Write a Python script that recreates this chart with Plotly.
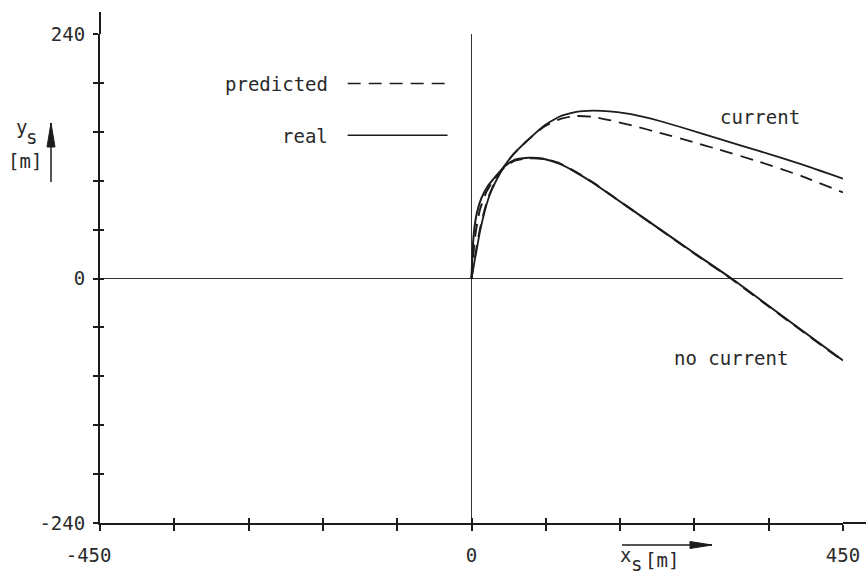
import plotly.graph_objects as go

# ---------------- data ----------------
nc_real_x = [0, 1.5, 3.6, 7, 12, 20, 28, 40, 52, 69, 88, 107, 127, 147, 188, 228, 268, 315, 386, 450]
nc_real_y = [0, 30, 50, 66, 79, 91, 99, 110, 116.5, 118.5, 117.3, 112.5, 104, 94, 71, 48.5, 26, 0, -42.5, -80.5]

nc_pred_x = [0, 2, 5, 10, 18, 28, 40, 52, 69, 88, 107, 127, 147, 188, 228, 268, 315, 386, 450]
nc_pred_y = [0, 22, 45, 67, 85, 98, 109, 115.5, 118, 117.5, 113, 104.5, 94.3, 71, 48.3, 25.5, -0.5, -43, -81]

c_real_x = [0, 3, 6, 10, 16, 22, 28, 40, 52, 67, 88, 107, 127, 147, 167, 187, 207, 228, 260, 300, 349, 400, 450]
c_real_y = [0, 14, 27, 45, 66, 82, 93, 110.7, 123, 135, 150, 159, 163.5, 164.7, 164, 162, 158.8, 154.6, 147, 137, 125, 112, 98]

c_pred_x = [0, 3, 6, 10, 16, 22, 28, 40, 52, 67, 88, 107, 127, 147, 167, 200, 228, 268, 300, 349, 400, 450]
c_pred_y = [0, 16, 30, 48, 68, 83, 94, 111, 123, 135, 149, 156.5, 159.5, 158.7, 155.5, 149, 143, 134, 126.5, 114.5, 100.5, 84.5]

x_ticks = [-450, -360, -270, -180, -90, 0, 90, 180, 270, 360, 450]
x_ticktext = ["-450\u00a0\u00a0", "", "", "", "", "0", "", "", "", "", "450"]
y_ticks = [-240, -192, -144, -96, -48, 0, 48, 96, 144, 192, 240]
y_ticktext = ["-240", "", "", "", "", "0", "", "", "", "", "240"]

# ---------------- geometry / styles ----------------
W, H = 866, 575
PL, PR, PT, PB = 100, 843, 34, 523      # plot area in page pixels


def px(x):
    return (x - PL) / (PR - PL)


def py(y):
    return (PB - y) / (PB - PT)


INK = "#1c1c1c"
TXT = "#2a2a2a"
FONT = dict(family="DejaVu Sans Mono", size=19, color=TXT)
DASH = "13px,8px"

fig = go.Figure()
spl = dict(shape="spline", smoothing=0.5)
fig.add_trace(go.Scatter(x=nc_real_x, y=nc_real_y, mode="lines",
                         line=dict(color=INK, width=2, **spl)))
fig.add_trace(go.Scatter(x=nc_pred_x, y=nc_pred_y, mode="lines",
                         line=dict(color=INK, width=2, dash=DASH, **spl)))
fig.add_trace(go.Scatter(x=c_real_x, y=c_real_y, mode="lines",
                         line=dict(color=INK, width=1.8, **spl)))
fig.add_trace(go.Scatter(x=c_pred_x, y=c_pred_y, mode="lines",
                         line=dict(color=INK, width=1.8, dash=DASH, **spl)))
# helper (empty) trace so the overlaid tick axes are drawn
fig.add_trace(go.Scatter(x=[None], y=[None], xaxis="x2", yaxis="y2", mode="lines",
                         hoverinfo="skip"))

axis_common = dict(showgrid=False, tickcolor=INK, tickwidth=1.5, tickfont=FONT,
                   fixedrange=True, automargin=False)

fig.update_layout(
    template="none",
    width=W, height=H,
    margin=dict(l=PL, r=W - PR, t=PT, b=H - PB, autoexpand=False),
    paper_bgcolor="white", plot_bgcolor="white",
    showlegend=False,
    xaxis=dict(range=[-450, 450], tickvals=x_ticks, ticktext=x_ticktext,
               ticks="outside", ticklen=6, ticklabelstandoff=8,
               zeroline=True, zerolinecolor="#333333", zerolinewidth=1,
               showline=True, linecolor=INK, linewidth=2, **axis_common),
    yaxis=dict(range=[-240, 240], tickvals=y_ticks, ticktext=y_ticktext,
               ticks="outside", ticklen=5, ticklabelstandoff=4,
               zeroline=True, zerolinecolor="#333333", zerolinewidth=1,
               showline=True, linecolor=INK, linewidth=2, **axis_common),
    xaxis2=dict(range=[-450, 450], tickvals=x_ticks, overlaying="x", anchor="y2",
                side="bottom", ticks="inside", ticklen=5, showticklabels=False,
                zeroline=False, showline=False, **axis_common),
    yaxis2=dict(range=[-240, 240], tickvals=y_ticks, overlaying="y", anchor="x2",
                side="left", ticks="inside", ticklen=4, showticklabels=False,
                zeroline=False, showline=False, **axis_common),
)

# axis line extensions beyond the plot area
fig.add_shape(type="line", xref="paper", yref="paper", x0=0, x1=0, y0=1, y1=py(12),
              line=dict(color=INK, width=2))
fig.add_shape(type="line", xref="paper", yref="paper", x0=1, x1=px(870), y0=0, y1=0,
              line=dict(color=INK, width=2))

# legend (text left of sample line)
fig.add_annotation(x=-172, y=191, xref="x", yref="y", text="predicted", showarrow=False,
                   xanchor="right", yanchor="middle", font=FONT)
fig.add_shape(type="line", xref="x", yref="y", x0=-150, x1=-29, y0=191.5, y1=191.5,
              line=dict(color=INK, width=1.5, dash=DASH))
fig.add_annotation(x=-172, y=140, xref="x", yref="y", text="real", showarrow=False,
                   xanchor="right", yanchor="middle", font=FONT)
fig.add_shape(type="line", xref="x", yref="y", x0=-150, x1=-29, y0=140.5, y1=140.5,
              line=dict(color=INK, width=1.5))

# curve labels
fig.add_annotation(x=298, y=159, xref="x", yref="y", text="current", showarrow=False,
                   xanchor="left", yanchor="middle", font=FONT)
fig.add_annotation(x=243, y=-78, xref="x", yref="y", text="no current", showarrow=False,
                   xanchor="left", yanchor="middle", font=FONT)


def label(text, xp, yp):
    fig.add_annotation(x=px(xp), y=py(yp), xref="paper", yref="paper", text=text,
                       showarrow=False, xanchor="center", yanchor="middle", font=FONT)


def arrow(x0, y0, x1, y1, head_len, head_half):
    # shaft
    fig.add_shape(type="line", xref="paper", yref="paper",
                  x0=px(x0), y0=py(y0), x1=px(x1), y1=py(y1),
                  line=dict(color=INK, width=1.5))
    # slender filled head (pointing from (x0,y0) to (x1,y1))
    dx, dy = x1 - x0, y1 - y0
    n = (dx * dx + dy * dy) ** 0.5
    ux, uy = dx / n, dy / n
    bx, by = x1 - ux * head_len, y1 - uy * head_len
    pts = [(x1, y1), (bx - uy * head_half, by + ux * head_half),
           (bx + uy * head_half, by - ux * head_half)]
    path = "M " + " L ".join(f"{px(a):.5f},{py(b):.5f}" for a, b in pts) + " Z"
    fig.add_shape(type="path", xref="paper", yref="paper", path=path,
                  fillcolor=INK, line=dict(color=INK, width=1))


# y axis title with arrow
label("y", 21, 127)
label("s", 31, 137)
label("[m]", 25, 161)
arrow(51, 182, 51, 123, 24, 4)

# x axis title with arrow
label("x", 625, 555)
label("s", 636, 564)
label("[m]", 662, 560)
arrow(622, 545, 712, 545, 22, 3.5)

fig.write_html("out.html")
